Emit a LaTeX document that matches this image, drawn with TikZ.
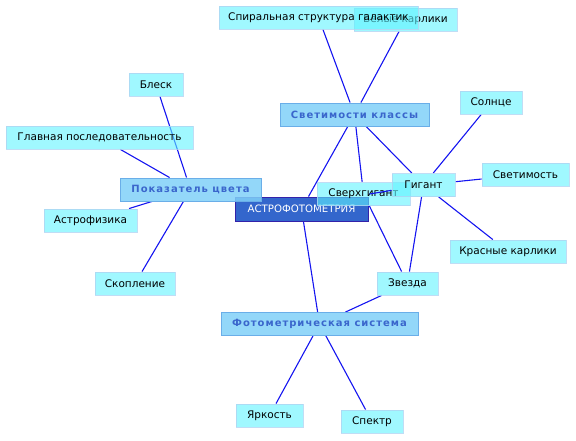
\documentclass[tikz,border=0pt]{standalone}
\usepackage{fontspec}
\setmainfont{DejaVu Sans}
\newfontfamily\catfont[LetterSpace=10]{DejaVu Sans}
\usetikzlibrary{backgrounds}
\definecolor{leaffill}{HTML}{61F3FF}
\definecolor{leafdraw}{HTML}{B0D4F2}
\definecolor{catfill}{HTML}{80D0F8}
\definecolor{catdraw}{HTML}{6AAEE8}
\definecolor{cattext}{HTML}{3A66CC}
\definecolor{cenfill}{HTML}{3366CC}
\definecolor{cendraw}{HTML}{3322AA}
\definecolor{edgecol}{HTML}{1414F0}
\tikzset{
  leaf/.style={draw=leafdraw, line width=0.9pt, fill=leaffill, fill opacity=0.6, draw opacity=0.8, text opacity=1,
    inner sep=0pt, minimum height=23pt, font=\fontsize{10.5}{12}\selectfont, text=black},
  cat/.style={draw=catdraw, line width=0.9pt, fill=catfill, fill opacity=0.85, text opacity=1,
    inner sep=0pt, minimum height=23pt, font=\catfont\bfseries\fontsize{10}{12}\selectfont, text=cattext},
  cen/.style={draw=cendraw, line width=1pt, fill=cenfill, inner sep=0pt, minimum height=24pt,
    font=\fontsize{10.2}{12}\selectfont, text=white},
  link/.style={draw=edgecol, line width=1.1pt}
}
\begin{document}
\begin{tikzpicture}[x=1pt,y=-1pt]
\useasboundingbox (0,0) rectangle (576,440);
\node[cen, minimum width=133pt] (astro) at (301.5,209) {АСТРОФОТОМЕТРИЯ};
\node[cat, minimum width=141pt] (pok) at (190.5,189.5) {Показатель цвета};
\node[cat, minimum width=149pt] (svk) at (354.5,114.5) {Светимости классы};
\node[cat, minimum width=197pt] (foto) at (319.5,324) {Фотометрическая система};
\node[leaf, minimum width=103pt] (bel) at (405.5,19.5) {Белые карлики};
\node[leaf, minimum width=199pt] (spir) at (318.5,17.5) {Спиральная структура галактик};
\node[leaf, minimum width=54pt] (blesk) at (156,84.5) {Блеск};
\node[leaf, minimum width=187pt] (glav) at (99.5,137.5) {Главная последовательность};
\node[leaf, minimum width=93pt] (astrof) at (90.5,220.5) {Астрофизика};
\node[leaf, minimum width=80pt] (skop) at (135,283.5) {Скопление};
\node[leaf, minimum width=93pt] (sverh) at (363.5,194) {Сверхгигант};
\node[leaf, minimum width=63pt] (gig) at (423.5,185) {Гигант};
\draw[link] ([xshift=6pt]sverh.center) -- (gig);
\node[leaf, minimum width=62pt] (sol) at (491,102.5) {Солнце};
\node[leaf, minimum width=87pt] (svet) at (525.5,174.5) {Светимость};
\node[leaf, minimum width=116pt] (kras) at (508,251.5) {Красные карлики};
\node[leaf, minimum width=61pt] (zv) at (407.5,283.5) {Звезда};
\node[leaf, minimum width=67pt] (jark) at (269.5,415.5) {Яркость};
\node[leaf, minimum width=62pt] (spek) at (372,421.5) {Спектр};
\begin{scope}[on background layer]
\draw[link] (spir) -- (svk);
\draw[link] (bel) -- (svk);
\draw[link] (blesk) -- (pok);
\draw[link] (glav) -- (pok);
\draw[link] (astrof) -- (pok);
\draw[link] (skop) -- (pok);
\draw[link] (svk) -- (astro);
\draw[link] (svk) -- (sverh);
\draw[link] (svk) -- (gig);
\draw[link] (gig) -- (sol);
\draw[link] (gig) -- (svet);
\draw[link] (gig) -- (kras);
\draw[link] (gig) -- (zv);
\draw[link] (sverh) -- (zv);
\draw[link] (astro) -- (foto);
\draw[link] (zv) -- (foto);
\draw[link] (foto) -- (jark);
\draw[link] (foto) -- (spek);
\end{scope}
\end{tikzpicture}
\end{document}
